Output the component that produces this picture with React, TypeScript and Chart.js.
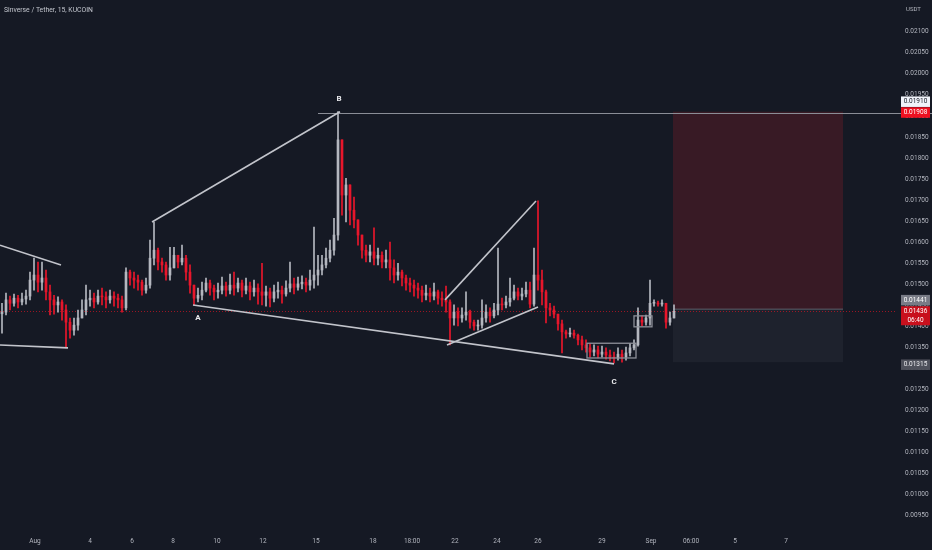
import React, { useEffect, useRef } from "react";
import { Chart, registerables } from "chart.js";
Chart.register(...registerables);

const TITLE = "Sinverse / Tether, 15, KUCOIN";
const UNIT = "USDT";
const PRICE_STEP = 1e-5;
const FIRST_OPEN = 1430;

// candle values in 0.00001 USDT
const closes = [
  1434, 1463, 1455, 1467, 1458, 1465, 1472, 1510, 1522, 1505,
  1515, 1482, 1463, 1451, 1458, 1439, 1410, 1391, 1403, 1420,
  1439, 1463, 1467, 1458, 1472, 1470, 1463, 1472, 1467, 1463,
  1444, 1529, 1515, 1510, 1505, 1486, 1498, 1562, 1581, 1553,
  1546, 1522, 1539, 1569, 1553, 1562, 1529, 1498, 1467, 1474,
  1486, 1503, 1491, 1482, 1486, 1496, 1486, 1498, 1491, 1503,
  1486, 1496, 1482, 1491, 1482, 1474, 1482, 1467, 1482, 1486,
  1477, 1491, 1501, 1493, 1501, 1505, 1498, 1510, 1522, 1534,
  1546, 1562, 1581, 1617, 1843, 1712, 1736, 1676, 1653, 1617,
  1581, 1569, 1577, 1562, 1569, 1553, 1558, 1539, 1522, 1529,
  1515, 1503, 1498, 1491, 1486, 1474, 1479, 1472, 1482, 1467,
  1463, 1458, 1420, 1434, 1420, 1427, 1434, 1410, 1401, 1403,
  1420, 1434, 1425, 1439, 1453, 1451, 1458, 1467, 1482, 1472,
  1477, 1486, 1453, 1522, 1510, 1482, 1444, 1439, 1429, 1406,
  1387, 1382, 1384, 1379, 1368, 1356, 1349, 1339, 1344, 1334,
  1339, 1332, 1327, 1325, 1334, 1327, 1337, 1349, 1356, 1415,
  1410, 1420, 1455, 1455, 1453, 1455, 1410, 1420, 1436,
];
const highs = [
  1455, 1479, 1472, 1477, 1474, 1479, 1486, 1529, 1562, 1553,
  1553, 1534, 1498, 1474, 1470, 1463, 1451, 1420, 1420, 1439,
  1463, 1498, 1486, 1479, 1486, 1491, 1482, 1486, 1482, 1477,
  1472, 1539, 1534, 1529, 1522, 1510, 1515, 1605, 1648, 1586,
  1562, 1553, 1588, 1588, 1569, 1593, 1569, 1546, 1491, 1491,
  1505, 1515, 1510, 1498, 1503, 1517, 1505, 1524, 1529, 1515,
  1510, 1515, 1505, 1510, 1501, 1550, 1496, 1491, 1498, 1505,
  1496, 1508, 1553, 1515, 1517, 1520, 1515, 1534, 1636, 1569,
  1569, 1586, 1605, 1657, 1910, 1843, 1752, 1736, 1707, 1653,
  1617, 1593, 1593, 1634, 1586, 1577, 1581, 1600, 1558, 1550,
  1534, 1522, 1515, 1510, 1503, 1496, 1498, 1491, 1503, 1486,
  1482, 1496, 1463, 1451, 1444, 1444, 1482, 1439, 1415, 1415,
  1463, 1451, 1444, 1455, 1586, 1467, 1472, 1515, 1498, 1491,
  1491, 1505, 1505, 1586, 1698, 1534, 1486, 1455, 1448, 1429,
  1415, 1391, 1396, 1391, 1382, 1377, 1368, 1358, 1356, 1353,
  1353, 1349, 1344, 1339, 1349, 1344, 1351, 1360, 1368, 1444,
  1425, 1427, 1510, 1463, 1460, 1463, 1455, 1434, 1451,
];
const lows = [
  1384, 1427, 1439, 1448, 1444, 1451, 1453, 1463, 1486, 1482,
  1486, 1463, 1427, 1429, 1434, 1415, 1349, 1372, 1379, 1391,
  1420, 1427, 1448, 1444, 1453, 1451, 1444, 1455, 1448, 1444,
  1434, 1439, 1498, 1491, 1486, 1474, 1479, 1491, 1546, 1534,
  1529, 1510, 1510, 1553, 1539, 1546, 1510, 1479, 1451, 1458,
  1463, 1482, 1474, 1463, 1467, 1477, 1472, 1477, 1474, 1482,
  1470, 1477, 1463, 1472, 1453, 1451, 1448, 1446, 1458, 1467,
  1455, 1472, 1482, 1477, 1486, 1489, 1482, 1486, 1491, 1498,
  1522, 1539, 1553, 1569, 1605, 1664, 1648, 1641, 1634, 1593,
  1562, 1553, 1553, 1546, 1546, 1539, 1539, 1510, 1503, 1510,
  1496, 1486, 1482, 1472, 1467, 1458, 1463, 1458, 1463, 1453,
  1448, 1434, 1356, 1403, 1401, 1410, 1415, 1396, 1391, 1391,
  1396, 1410, 1410, 1420, 1427, 1439, 1444, 1448, 1463, 1463,
  1463, 1470, 1444, 1448, 1486, 1451, 1408, 1425, 1420, 1391,
  1337, 1372, 1375, 1372, 1356, 1344, 1339, 1327, 1330, 1325,
  1327, 1322, 1318, 1313, 1320, 1315, 1320, 1330, 1344, 1353,
  1401, 1403, 1403, 1448, 1448, 1448, 1396, 1403, 1420,
];

// time axis (bar-index positions)
const xTickPos = [8.25, 22, 32.5, 42.75, 53.75, 65.25, 78.5, 92.75, 102.5, 113.25, 123.75, 134, 150, 162.25, 172.25, 183.25, 196];
const xTickLabels = ["Aug", "4", "6", "8", "10", "12", "15", "18", "18:00", "22", "24", "26", "29", "Sep", "06:00", "5", "7"];
const yTicks = [
  0.0095, 0.01, 0.0105, 0.011, 0.0115, 0.012, 0.0125, 0.013, 0.0135, 0.014, 0.0145, 0.015,
  0.0155, 0.016, 0.0165, 0.017, 0.0175, 0.018, 0.0185, 0.019, 0.0195, 0.02, 0.0205, 0.021,
];

// drawings: [x1, price1, x2, price2]
const trendLines = [
  [-0.5, 0.01593, 14.75, 0.01546],
  [-0.5, 0.01356, 16.5, 0.01349],
  [37.5, 0.01648, 84.5, 0.0191],
  [47.75, 0.01451, 153, 0.01311],
  [110.75, 0.01463, 133.5, 0.01698],
  [111.25, 0.01356, 134, 0.01446],
];
const boxes = [
  [146.25, 0.0136, 158.5, 0.01325],
  [158, 0.01425, 162.5, 0.01399],
];
const waveLabels = [
  { t: "A", x: 49, p: 0.0142 },
  { t: "B", x: 84.25, p: 0.0194 },
  { t: "C", x: 153, p: 0.01268 },
];
const resistance = { x: 79, p: 0.01908 };
const position = { x1: 167.75, x2: 210.25, entry: 0.01441, stop: 0.0191, target: 0.01315 };
const lastPrice = 0.01436;
const countdown = "06:40";

const BG = "#151924";
const UP = "#b4b7bf";
const DOWN = "#e8162b";
const TEXT = "#b2b5be";
const FONT = "'Liberation Sans Narrow', 'Roboto', 'Noto Sans', sans-serif";

export default function App() {
  const ref = useRef<HTMLCanvasElement | null>(null);

  useEffect(() => {
    document.body.style.margin = "0";
    const canvas = ref.current;
    if (!canvas) return;

    const candles = closes.map((c, i) => {
      const o = i === 0 ? FIRST_OPEN : closes[i - 1];
      return {
        x: i,
        o: o * PRICE_STEP,
        c: c * PRICE_STEP,
        h: Math.max(highs[i], o, c) * PRICE_STEP,
        l: Math.min(lows[i], o, c) * PRICE_STEP,
        up: c >= o,
      };
    });
    const colors = candles.map((k) => (k.up ? UP : DOWN));

    const drawings = {
      id: "drawings",
      beforeDraw(chart: any) {
        const ctx = chart.ctx;
        ctx.save();
        ctx.fillStyle = BG;
        ctx.fillRect(0, 0, chart.width, chart.height);
        ctx.restore();
      },
      beforeDatasetsDraw(chart: any) {
        const ctx = chart.ctx;
        const xs = chart.scales.x;
        const ys = chart.scales.y;
        const a = chart.chartArea;
        ctx.save();
        const x1 = xs.getPixelForValue(position.x1);
        const x2 = xs.getPixelForValue(position.x2);
        const yStop = ys.getPixelForValue(position.stop);
        const yEntry = ys.getPixelForValue(position.entry);
        const yTarget = ys.getPixelForValue(position.target);
        ctx.fillStyle = "#381a25";
        ctx.fillRect(x1, yStop, x2 - x1, yEntry - yStop);
        ctx.fillStyle = "#1e222d";
        ctx.fillRect(x1, yEntry, x2 - x1, yTarget - yEntry);
        ctx.strokeStyle = "#5d606b";
        ctx.lineWidth = 1;
        ctx.beginPath();
        ctx.moveTo(x1, yEntry);
        ctx.lineTo(x2, yEntry);
        ctx.stroke();
        // last price dotted line
        const yl = Math.round(ys.getPixelForValue(lastPrice)) + 0.5;
        ctx.strokeStyle = "rgba(200,20,35,0.75)";
        ctx.setLineDash([1, 2]);
        ctx.beginPath();
        ctx.moveTo(a.left, yl);
        ctx.lineTo(a.right, yl);
        ctx.stroke();
        ctx.restore();
      },
      afterDatasetsDraw(chart: any) {
        const ctx = chart.ctx;
        const xs = chart.scales.x;
        const ys = chart.scales.y;
        ctx.save();
        // resistance
        const yr = Math.round(ys.getPixelForValue(resistance.p)) + 0.5;
        ctx.strokeStyle = "#8a8d96";
        ctx.lineWidth = 1;
        ctx.beginPath();
        ctx.moveTo(xs.getPixelForValue(resistance.x), yr);
        ctx.lineTo(chart.width, yr);
        ctx.stroke();
        // trend lines
        ctx.strokeStyle = "#c2c4cb";
        ctx.lineWidth = 1.6;
        trendLines.forEach(([xa, pa, xb, pb]) => {
          ctx.beginPath();
          ctx.moveTo(xs.getPixelForValue(xa), ys.getPixelForValue(pa));
          ctx.lineTo(xs.getPixelForValue(xb), ys.getPixelForValue(pb));
          ctx.stroke();
        });
        // boxes
        ctx.strokeStyle = "#8d9099";
        ctx.lineWidth = 1.3;
        boxes.forEach(([xa, pa, xb, pb]) => {
          const px = xs.getPixelForValue(xa);
          const py = ys.getPixelForValue(pa);
          ctx.strokeRect(px, py, xs.getPixelForValue(xb) - px, ys.getPixelForValue(pb) - py);
        });
        // wave labels
        ctx.fillStyle = "#e8e9ec";
        ctx.font = `bold 8px ${FONT}`;
        ctx.textAlign = "center";
        ctx.textBaseline = "middle";
        waveLabels.forEach((w) => {
          ctx.fillText(w.t, xs.getPixelForValue(w.x), ys.getPixelForValue(w.p));
        });
        ctx.restore();
      },
      afterDraw(chart: any) {
        const ctx = chart.ctx;
        const ys = chart.scales.y;
        const a = chart.chartArea;
        ctx.save();
        const tx = a.right + 6;
        const tw = 29;
        const tag = (yc: number, h: number, lines: string[], bg: string, fg: string) => {
          ctx.fillStyle = bg;
          ctx.fillRect(tx, yc - h / 2, tw, h);
          ctx.fillStyle = fg;
          ctx.font = `6.5px ${FONT}`;
          ctx.textAlign = "center";
          ctx.textBaseline = "middle";
          const lh = 9;
          const start = yc - ((lines.length - 1) * lh) / 2;
          lines.forEach((s, i) => ctx.fillText(s, tx + tw / 2, start + i * lh));
        };
        const fmt = (v: number) => v.toFixed(5);
        tag(ys.getPixelForValue(position.stop) - 10, 10.5, [fmt(position.stop)], "#f0f3fa", "#131722");
        tag(ys.getPixelForValue(resistance.p), 10.5, [fmt(resistance.p)], "#ee1020", "#ffffff");
        tag(ys.getPixelForValue(position.entry) - 9, 10.5, [fmt(position.entry)], "#787b86", "#ffffff");
        tag(ys.getPixelForValue(lastPrice) + 4.5, 19, [fmt(lastPrice), countdown], "#c8101d", "#ffffff");
        tag(ys.getPixelForValue(position.target) + 2.5, 10.5, [fmt(position.target)], "#4e515b", "#e8e9ec");
        // title & unit
        ctx.fillStyle = "#c3c6ce";
        ctx.font = `6.8px ${FONT}`;
        ctx.textAlign = "left";
        ctx.textBaseline = "middle";
        ctx.fillText(TITLE, 4, 10);
        ctx.fillStyle = TEXT;
        ctx.font = `6px ${FONT}`;
        ctx.fillText(UNIT, a.right + 11, 9);
        ctx.restore();
      },
    };

    const chart = new Chart(canvas, {
      type: "bar",
      data: {
        datasets: [
          {
            label: "body",
            data: candles.map((k) => ({ x: k.x, y: [k.o, k.c] })) as any,
            backgroundColor: colors,
            barThickness: 2,
            minBarLength: 1,
            grouped: false,
          } as any,
          {
            label: "wick",
            data: candles.map((k) => ({ x: k.x, y: [k.l, k.h] })) as any,
            backgroundColor: colors,
            barThickness: 1,
            grouped: false,
          } as any,
        ],
      },
      options: {
        responsive: false,
        animation: false,
        layout: { padding: 0 },
        plugins: { legend: { display: false }, tooltip: { enabled: false } },
        scales: {
          x: {
            type: "linear",
            min: -0.5,
            max: 223.25,
            offset: false,
            grid: { display: false, drawTicks: false },
            border: { display: false },
            afterFit: (s: any) => {
              s.height = 20;
              s.paddingLeft = 0;
              s.paddingRight = 0;
            },
            afterBuildTicks: (s: any) => {
              s.ticks = xTickPos.map((v) => ({ value: v }));
            },
            ticks: {
              autoSkip: false,
              maxRotation: 0,
              padding: 7,
              color: TEXT,
              font: { size: 6.5, family: FONT },
              callback: (_v: any, i: number) => xTickLabels[i],
            },
          },
          y: {
            position: "right",
            min: 0.009164,
            max: 0.021753,
            grid: { display: false, drawTicks: false },
            border: { display: false },
            afterFit: (s: any) => {
              s.width = 37;
              s.paddingTop = 0;
              s.paddingBottom = 0;
            },
            afterBuildTicks: (s: any) => {
              s.ticks = yTicks.map((v) => ({ value: v }));
            },
            ticks: {
              padding: 10,
              color: TEXT,
              font: { size: 6.5, family: FONT },
              callback: (v: any) => Number(v).toFixed(5),
            },
          },
        },
      },
      plugins: [drawings],
    });
    return () => chart.destroy();
  }, []);

  return <canvas ref={ref} width={932} height={550} style={{ display: "block" }} />;
}
